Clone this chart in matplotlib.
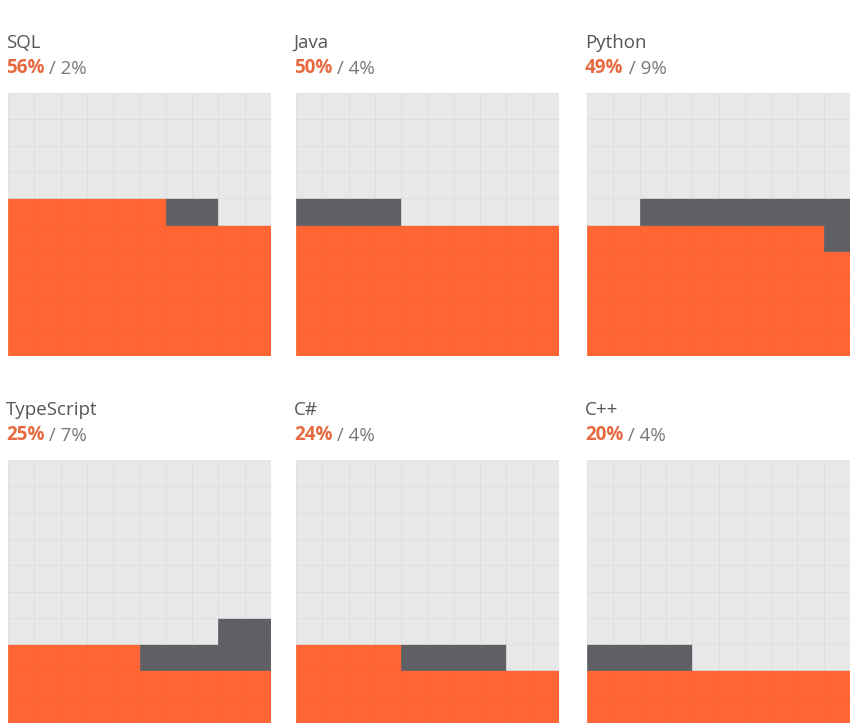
import matplotlib
matplotlib.use("Agg")
import matplotlib.pyplot as plt
from matplotlib.patches import Rectangle

languages = ["SQL", "Java", "Python", "TypeScript", "C#", "C++"]
primary = [56, 50, 49, 25, 24, 20]
secondary = [2, 4, 9, 7, 4, 4]

W, H = 858, 728
ORANGE = "#ff6633"
ORANGE_EDGE = "#f4612f"
DARK = "#5f6065"
LIGHT = "#e8e8e8"
LIGHT_EDGE = "#dcdcdc"
TITLE_C = "#555555"
SUB_ORANGE = "#e8693f"
SUB_GRAY = "#777777"
FS = 13.5

plt.rcParams["font.family"] = ["Open Sans", "DejaVu Sans"]
fig = plt.figure(figsize=(W / 100, H / 100), dpi=100)
fig.patch.set_facecolor("white")

col_x = [8, 296, 587]
row_y = [93, 460]
size = 263


def cell_pos(k, a):
    r = k // 10
    c = k % 10
    if k >= a and r != a // 10:
        c = 9 - c
    return r, c


for i, (name, a, g) in enumerate(zip(languages, primary, secondary)):
    x0 = col_x[i % 3]
    y0 = row_y[i // 3]
    ax = fig.add_axes([x0 / W, 1 - (y0 + size) / H, size / W, size / H])
    ax.set_xlim(0, 10)
    ax.set_ylim(0, 10)
    ax.axis("off")
    colors = {}
    for k in range(100):
        colors[(k // 10, k % 10)] = "light"
    for k in range(a):
        colors[cell_pos(k, a)] = "orange"
    for k in range(a, a + g):
        colors[cell_pos(k, a)] = "dark"
    for (r, c), kind in colors.items():
        if kind == "light":
            fc, ec = LIGHT, LIGHT_EDGE
        elif kind == "orange":
            fc, ec = ORANGE, ORANGE_EDGE
        else:
            fc, ec = DARK, DARK
        ax.add_patch(Rectangle((c, r), 1, 1, facecolor=fc, edgecolor=ec, linewidth=0.5))

    fig.text((x0 - 2) / W, 1 - (y0 - 45) / H, name, fontsize=FS, color=TITLE_C,
             va="baseline", ha="left")
    t1 = fig.text((x0 - 2) / W, 1 - (y0 - 20) / H, f"{a}%", fontsize=FS, color=SUB_ORANGE,
                  fontweight="bold", va="baseline", ha="left")
    ax.annotate(f" / {g}%", xy=(1, 0), xycoords=t1, fontsize=FS, color=SUB_GRAY,
                va="bottom", ha="left", annotation_clip=False)

fig.savefig("out.png", dpi=100, facecolor="white")
